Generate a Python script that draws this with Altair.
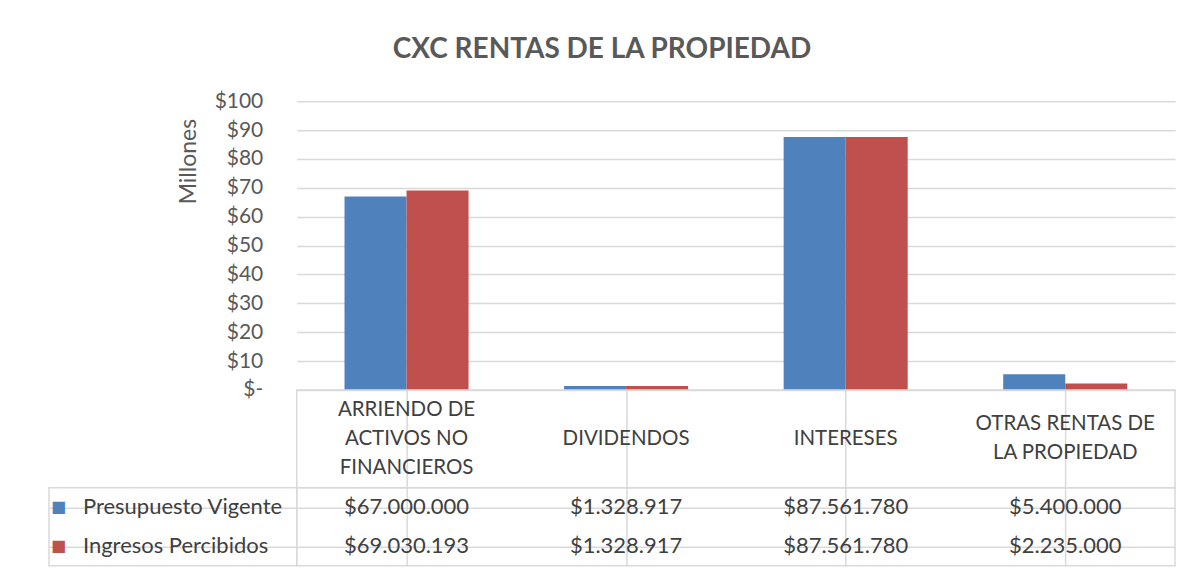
import altair as alt
import pandas as pd

# ---- data ----
categories = ["ARRIENDO DE ACTIVOS NO FINANCIEROS", "DIVIDENDOS", "INTERESES", "OTRAS RENTAS DE LA PROPIEDAD"]
header_lines = [["ARRIENDO DE", "ACTIVOS NO", "FINANCIEROS"], ["DIVIDENDOS"], ["INTERESES"], ["OTRAS RENTAS DE", "LA PROPIEDAD"]]
series = ["Presupuesto Vigente", "Ingresos Percibidos"]
presupuesto_vigente = [67000000, 1328917, 87561780, 5400000]
ingresos_percibidos = [69030193, 1328917, 87561780, 2235000]
colors = ["#4F81BD", "#C0504D"]
y_ticks = [0, 10, 20, 30, 40, 50, 60, 70, 80, 90, 100]

FONT = "Lato"
TXT = "#595959"
TTXT = "#404040"
GRID = "#D9D9D9"


def fmt(v):
    return "$" + f"{v:,}".replace(",", ".")


rows = []
for s, vals in zip(series, [presupuesto_vigente, ingresos_percibidos]):
    for c, v in zip(categories, vals):
        rows.append({"cat": c, "series": s, "value": v, "mill": v / 1e6, "label": fmt(v)})
df = pd.DataFrame(rows)

head_rows = []
for c, lines in zip(categories, header_lines):
    n = len(lines)
    for i, t in enumerate(lines):
        head_rows.append({"cat": c, "line": t, "pos": i - (n - 1) / 2})
df_head = pd.DataFrame(head_rows)
df_leg = pd.DataFrame({"series": series, "sq": ["■", "■"]})

W = 879
LEFTW = 248
x_scale = alt.Scale(domain=categories, paddingInner=0, paddingOuter=0)
color_scale = alt.Scale(domain=series, range=colors)

# ---- bar chart ----
bars = alt.Chart(df).mark_bar().encode(
    x=alt.X("cat:N", sort=categories, scale=x_scale, axis=None),
    xOffset=alt.XOffset("series:N", sort=series, scale=alt.Scale(paddingInner=0, paddingOuter=0.77)),
    y=alt.Y("mill:Q", scale=alt.Scale(domain=[0, 100], nice=False),
            axis=alt.Axis(values=y_ticks, labelExpr="datum.value == 0 ? '$-' : '$' + datum.value",
                          title="Millones", titleFont=FONT, titleFontSize=23, titleFontWeight="normal",
                          titleColor=TXT, titleX=-108, titleY=60, titleAngle=-90, titleAlign="center",
                          titleBaseline="middle",
                          labelFont=FONT, labelFontSize=21, labelColor=TXT, labelPadding=34,
                          ticks=False, domain=False, gridColor=GRID, gridWidth=1.5)),
    color=alt.Color("series:N", scale=color_scale, legend=None),
).properties(width=W, height=289)

# ---- placeholders ----
blank_df = pd.DataFrame({"a": [0]})
blank_top = alt.Chart(blank_df).mark_text(text="").encode(x=alt.value(0)).properties(width=LEFTW, height=289)
blank_head = alt.Chart(blank_df).mark_text(text="").encode(x=alt.value(0)).properties(width=LEFTW, height=98)

# ---- header row ----
header = alt.Chart(df_head).mark_text(font=FONT, fontSize=20.5, color=TTXT).encode(
    x=alt.X("cat:N", sort=categories, scale=x_scale,
            axis=alt.Axis(grid=True, bandPosition=0, labels=False, ticks=False, domain=False,
                          title=None, gridColor=GRID, gridWidth=1.5)),
    y=alt.Y("pos:Q", scale=alt.Scale(domain=[-1.69, 1.69], reverse=True, nice=False, zero=False), axis=None),
    text="line",
).properties(width=W, height=98, view=alt.ViewBackground(stroke=GRID, strokeWidth=1.5))

# ---- legend column of the table ----
leg_y = alt.Y("series:N", sort=series,
              axis=alt.Axis(grid=True, bandPosition=0, labels=False, ticks=False, domain=False,
                            title=None, gridColor=GRID, gridWidth=1.5))
leg_sq = alt.Chart(df_leg).mark_text(font="DejaVu Sans", fontSize=16, align="left").encode(
    y=leg_y, x=alt.value(2), text="sq",
    color=alt.Color("series:N", scale=color_scale, legend=None))
leg_txt = alt.Chart(df_leg).mark_text(font=FONT, fontSize=22, align="left", color=TTXT).encode(
    y=leg_y, x=alt.value(34), text="series")
leg = alt.layer(leg_sq, leg_txt).properties(
    width=LEFTW, height=78, view=alt.ViewBackground(stroke=GRID, strokeWidth=1.5))

# ---- values of the table ----
vals = alt.Chart(df).mark_text(font=FONT, fontSize=22, color=TTXT).encode(
    x=alt.X("cat:N", sort=categories, scale=x_scale,
            axis=alt.Axis(grid=True, bandPosition=0, labels=False, ticks=False, domain=False,
                          title=None, gridColor=GRID, gridWidth=1.5)),
    y=alt.Y("series:N", sort=series,
            axis=alt.Axis(grid=True, bandPosition=0, labels=False, ticks=False, domain=False,
                          title=None, gridColor=GRID, gridWidth=1.5)),
    text="label",
).properties(width=W, height=78, view=alt.ViewBackground(stroke=GRID, strokeWidth=1.5))

chart = alt.concat(blank_top, bars, blank_head, header, leg, vals, columns=2, spacing=0, bounds="flush").properties(
    title=alt.TitleParams("CXC RENTAS DE LA PROPIEDAD", font=FONT, fontSize=28, fontWeight="bold",
                          color=TXT, anchor="middle", offset=26, dx=-10),
    padding={"left": 40, "top": 27, "right": 20, "bottom": 4},
    background="white",
).configure_view(stroke="transparent")

chart.save("out.html", embed_options={"renderer": "svg", "actions": False})
